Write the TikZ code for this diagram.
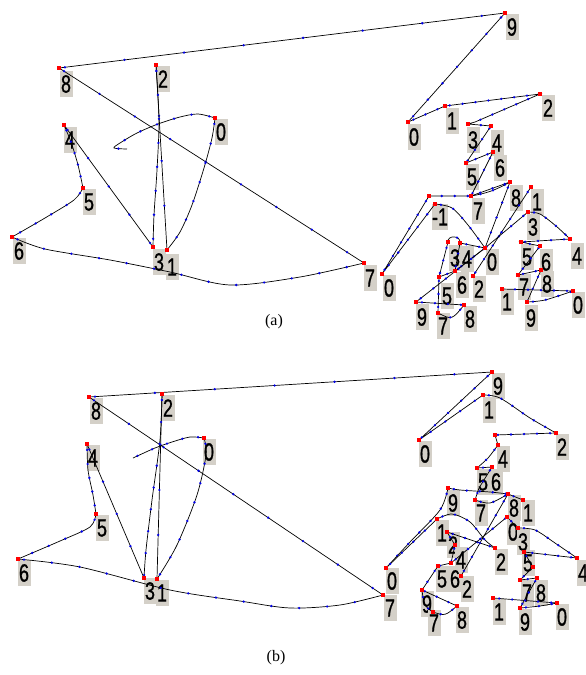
\documentclass[tikz,border=0pt]{standalone}
\usepackage{fontspec}
\setmainfont{Liberation Serif}
\newfontfamily\digf[FakeStretch=0.72,FakeBold=0.8]{Liberation Sans}
\definecolor{lblgray}{RGB}{212,208,200}
\definecolor{dotblue}{RGB}{0,0,230}
\newcommand\mk[6]{\coordinate (#1) at (#2,#3); \node[lbl] (#1l) at (#5,#6) {#4};}
\begin{document}
\begin{tikzpicture}[x=1pt,y=-1pt,
 lbl/.style={fill=lblgray, inner sep=0pt, minimum width=13pt, minimum height=26pt, font=\digf\fontsize{25}{25}\selectfont},
 rp/.style={fill=red, inner sep=0pt, minimum size=4.5pt},
 tour/.style={draw=black, line width=0.7pt, postaction={draw=dotblue, line width=2.6pt, line cap=round, dash pattern=on 0pt off #1, dash phase=-6pt}},
 tour/.default=13pt,
 captxt/.style={font=\fontsize{16}{16}\selectfont}]
\useasboundingbox (0,0) rectangle (586,675);
% ---------- panel (a) ----------
\mk{a8}{59}{68}{8}{66}{84}
\mk{a2}{156}{65}{2}{163}{79}
\mk{a0}{215}{118}{0}{221}{132}
\mk{a4}{64}{125}{4}{70}{140}
\mk{a5}{83}{188}{5}{89}{202}
\mk{a6}{12}{237}{6}{19}{251}
\mk{a3}{153}{247}{3}{159}{262}
\mk{a1}{167}{250}{1}{172}{267}
\mk{a7}{364}{263}{7}{370}{278}
\mk{a9}{505}{13}{9}{512}{27}
\mk{b0}{408}{122}{0}{414}{137}
\mk{b1}{445}{106}{1}{452}{121}
\mk{b2}{540}{94}{2}{548}{108}
\mk{b3}{468}{124}{3}{473}{140}
\mk{b4}{491}{126}{4}{497}{143}
\mk{b5}{466}{163}{5}{472}{177}
\mk{b6}{493}{152}{6}{500}{168}
\mk{b7}{471}{196}{7}{478}{211}
\mk{b8}{510}{182}{8}{516}{198}
\mk{b9}{531}{187}{1}{537}{202}
\mk{bm}{429}{196}{-1}{440}{217}
\coordinate (bn) at (435,204);
\mk{c0}{382}{274}{0}{389}{288}
\mk{c3}{448}{242}{3}{455}{258}
\mk{c4}{460}{243}{4}{467}{259}
\mk{cc}{485}{248}{0}{492}{262}
\mk{c2}{473}{276}{2}{479}{289}
\mk{c5}{439}{277}{5}{447}{296}
\mk{c6}{455}{271}{6}{462}{285}
\mk{c9}{416}{302}{9}{422}{317}
\mk{c7}{438}{313}{7}{443}{326}
\mk{c8}{464}{305}{8}{470}{319}
\mk{d3}{528}{212}{3}{533}{227}
\mk{d4}{570}{239}{4}{577}{256}
\mk{d5}{521}{242}{5}{527}{257}
\mk{d6}{540}{246}{6}{546}{262}
\mk{d7}{518}{275}{7}{524}{287}
\mk{d8}{541}{270}{8}{547}{284}
\mk{d1}{502}{289}{1}{507}{302}
\mk{d9}{527}{302}{9}{531}{318}
\mk{d0}{573}{291}{0}{578}{305}
% ---------- panel (b) ----------
\mk{p8}{89}{397}{8}{96}{411}
\mk{p2}{162}{394}{2}{168}{408}
\mk{p0}{204}{438}{0}{209}{452}
\mk{p4}{87}{444}{4}{93}{458}
\mk{p5}{96}{514}{5}{102}{528}
\mk{p6}{18}{559}{6}{24}{573}
\mk{p3}{144}{578}{3}{150}{591}
\mk{p1}{157}{579}{1}{162}{593}
\mk{p7}{383}{595}{7}{390}{608}
\mk{p9}{492}{372}{9}{498}{386}
\mk{q0}{419}{440}{0}{425}{454}
\mk{q1}{483}{395}{1}{489}{410}
\mk{q2}{556}{433}{2}{562}{447}
\coordinate (q3) at (495,435);
\mk{q4}{498}{445}{4}{503}{459}
\mk{q5}{477}{468}{5}{483}{482}
\mk{q6}{492}{467}{6}{496}{482}
\mk{qn}{448}{488}{9}{453}{503}
\mk{q7}{475}{500}{7}{481}{513}
\mk{q8}{508}{494}{8}{514}{508}
\mk{qa}{523}{500}{1}{528}{513}
\mk{qb}{507}{517}{0}{513}{532}
\mk{qc}{518}{528}{3}{523}{542}
\mk{r0}{386}{568}{0}{392}{581}
\mk{r1}{437}{519}{1}{442}{533}
\mk{r2}{447}{532}{2}{453}{545}
\mk{r4}{455}{545}{4}{461}{560}
\mk{rc}{495}{548}{2}{501}{562}
\mk{r5}{438}{566}{5}{442}{579}
\mk{r6}{451}{563}{6}{455}{579}
\mk{rb}{461}{576}{2}{467}{589}
\mk{s9}{422}{590}{9}{427}{604}
\mk{s7}{433}{612}{7}{434}{623}
\mk{s8}{457}{606}{8}{462}{620}
\mk{t5}{524}{552}{5}{528}{563}
\mk{t4}{577}{558}{4}{583}{573}
\coordinate (t6) at (533,567);
\mk{t7}{520}{580}{7}{527}{593}
\mk{t8}{537}{578}{8}{541}{593}
\mk{t1}{493}{598}{1}{499}{612}
\mk{t9}{520}{608}{9}{525}{622}
\mk{t0}{557}{603}{0}{562}{617}
% ---------- connectors (a) ----------
\draw[tour=60pt] (a8) -- (a9);
\draw[tour=42pt] (a8) -- (a7);
\draw[tour=45pt] (a2) -- (a1);
\draw[tour=24pt] plot[smooth] coordinates {(a2) (159,120) (157,170) (154,215) (a3)};
\draw[tour=18pt] plot[smooth] coordinates {(a0) (198,114) (180,117) (158,124) (137,133) (120,143) (114,148) (127,149)};
\draw[tour=20pt] plot[smooth] coordinates {(a0) (212,138) (204,168) (192,205) (180,232) (a1)};
\draw[tour=35pt] (a4) -- (a3);
\draw[tour=12pt] plot[smooth] coordinates {(a4) (71,142) (78,165) (a5)};
\draw[tour=18pt] plot[smooth] coordinates {(a5) (74,200) (45,218) (a6)};
\draw[tour=28pt] plot[smooth] coordinates {(a6) (45,249) (110,260) (170,272) (230,285) (300,277) (a7)};
\draw[tour=22pt] (a9) -- (b0);
\draw[tour] (b0) -- (b1) -- (b2) -- (475,122) -- (b3) -- (b4) -- (b5) -- (b6) -- (b7) -- (b8);
\draw[tour] (b8) to[bend left=10] (b7) -- (bm);
\draw[tour=16pt] (bm) -- (c0) -- (bn);
\draw[tour] plot[smooth] coordinates {(bn) (452,208) (468,225) (cc)};
\draw[tour] (cc) -- (c4) .. controls (461,235) and (447,235) .. (c3);
\draw[tour] (c3) -- (c5) -- (c6) -- (c4);
\draw[tour=16pt] (d3) -- (cc) -- (c6);
\draw[tour=16pt] (b8) -- (cc);
\draw[tour=16pt] (b9) -- (c2);
\draw[tour=16pt] (c9) -- (cc);
\draw[tour] (c9) -- (c8);
\draw[tour] (c8) .. controls (452,320) .. (c7);
\draw[tour] (c7) -- (c5);
\draw[tour] plot[smooth] coordinates {(d3) (540,214) (556,226) (d4)};
\draw[tour] (d4) -- (d5) -- (d6) -- (d7) -- (d8) -- (d9);
\draw[tour] plot[smooth] coordinates {(d9) (545,300) (d0)};
\draw[tour] (d0) -- (d1);
% ---------- connectors (b) ----------
\draw[tour=60pt] (p8) -- (p9);
\draw[tour=42pt] (p8) -- (p7);
\draw[tour=45pt] (p2) -- (p1);
\draw[tour=22pt] plot[smooth] coordinates {(p2) (160,440) (152,500) (146,550) (p3)};
\draw[tour=16pt] plot[smooth] coordinates {(p0) (190,437) (172,442) (155,448) (133,458)};
\draw[tour=20pt] plot[smooth] coordinates {(p0) (206,455) (197,495) (177,545) (p1)};
\draw[tour=35pt] (p4) -- (p3);
\draw[tour=14pt] plot[smooth] coordinates {(p4) (88,470) (93,495) (p5)};
\draw[tour=18pt] plot[smooth] coordinates {(p5) (90,527) (60,541) (p6)};
\draw[tour=28pt] plot[smooth] coordinates {(p6) (80,567) (170,590) (240,601) (290,608) (340,605) (p7)};
\draw[tour=18pt] (p9) -- (q0) -- (q1);
\draw[tour] plot[smooth] coordinates {(q1) (500,398) (530,418) (q2)};
\draw[tour] (q2) -- (q3) -- (q4);
\draw[tour] plot[smooth] coordinates {(q4) (488,458) (q5)};
\draw[tour] (q5) -- (q6) -- (479,488) -- (q7);
\draw[tour] plot[smooth] coordinates {(qn) (460,490) (490,492) (q8)};
\draw[tour] plot[smooth] coordinates {(q7) (490,503) (q8)};
\draw[tour] (q8) -- (qa);
\draw[tour=16pt] plot[smooth] coordinates {(qn) (440,510) (410,542) (r0)};
\draw[tour=16pt] (r0) -- (r1);
\draw[tour] plot[smooth] coordinates {(r1) (452,514) (470,522) (485,540) (rc)};
\draw[tour] (r2) -- (rc);
\draw[tour] (r2) -- (r4) -- (r6) -- (r5);
\draw[tour=16pt] (r6) -- (qb);
\draw[tour=16pt] (rb) -- (q8);
\draw[tour] (r5) -- (s9) -- (s8);
\draw[tour] (s8) .. controls (445,616) .. (s7);
\draw[tour] (s7) .. controls (424,606) .. (s9);
\draw[tour] (qb) -- (qc);
\draw[tour] plot[smooth] coordinates {(qc) (535,530) (555,543) (t4)};
\draw[tour] (t4) -- (t5) -- (t6) -- (t7) -- (t8) -- (t9);
\draw[tour] plot[smooth] coordinates {(t9) (540,606) (t0)};
\draw[tour] (t0) -- (t1);
% ---------- red points ----------
\foreach \n in {a8,a2,a0,a4,a5,a6,a3,a1,a7,a9,b0,b1,b2,b3,b4,b5,b6,b7,b8,b9,bm,bn,c0,c3,c4,cc,c2,c5,c6,c9,c7,c8,d3,d4,d5,d6,d7,d8,d1,d9,d0,
  p8,p2,p0,p4,p5,p6,p3,p1,p7,p9,q0,q1,q2,q3,q4,q5,q6,qn,q7,q8,qa,qb,qc,r0,r1,r2,r4,rc,r5,r6,rb,s9,s7,s8,t5,t4,t6,t7,t8,t1,t9,t0}
  \node[rp] (rp\n) at (\n) {};
% ---------- captions ----------
\node[captxt] (capa) at (274,322) {(a)};
\node[captxt] (capb) at (276,658) {(b)};
\end{tikzpicture}
\end{document}
